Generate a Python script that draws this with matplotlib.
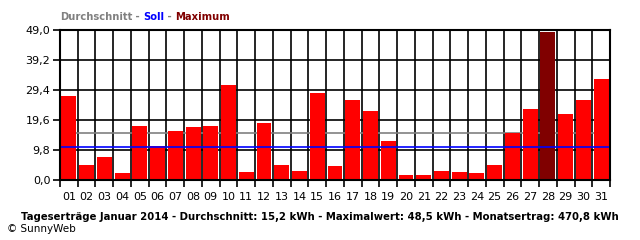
import numpy as np
import matplotlib
matplotlib.use("Agg")
import matplotlib.pyplot as plt

# Tageserträge Januar 2014 (kWh)
tage = [f"{d:02d}" for d in range(1, 32)]
ertrag = [27.4, 5.0, 7.6, 2.4, 17.7, 11.0, 16.0, 17.4, 17.7, 31.0,
          2.7, 18.7, 5.0, 3.0, 28.4, 4.7, 26.1, 22.5, 12.8, 1.7,
          1.7, 3.0, 2.7, 2.4, 5.0, 15.5, 23.2, 48.5, 21.6, 26.1, 33.0]
durchschnitt = 15.2
soll = 10.8
y_ticks = [0.0, 9.8, 19.6, 29.4, 39.2, 49.0]
y_labels = ["0,0", "9,8", "19,6", "29,4", "39,2", "49,0"]

plt.rcParams['font.family'] = ['DejaVu Sans']

fig = plt.figure(figsize=(6.4, 2.4), dpi=100)
ax = fig.add_axes([60/640, 60/240, 550/640, 150/240])

x = np.arange(1, 32)
imax = int(np.argmax(ertrag))
farben = ["#FF0000"] * len(ertrag)
farben[imax] = "#800000"
ax.bar(x, ertrag, width=0.84, color=farben, zorder=3)

# Gitter
for xb in np.arange(0.5, 32, 1.0):
    ax.axvline(xb, color="black", lw=1.2, zorder=1)
for yv in y_ticks[1:-1]:
    ax.axhline(yv, color="black", lw=1.2, zorder=1)

# Durchschnitt hinter den Balken, Soll davor
ax.axhline(durchschnitt, color="#808080", lw=1.2, zorder=2)
ax.axhline(soll, color="#0000FF", lw=1.2, zorder=4)

ax.set_xlim(0.5, 31.5)
ax.set_ylim(0, 49.0)
ax.set_yticks(y_ticks)
ax.set_yticklabels(y_labels, fontsize=8)
ax.set_xticks(np.arange(0.5, 32, 1.0))
ax.set_xticklabels([])
ax.set_xticks(x, minor=True)
ax.set_xticklabels(tage, minor=True, fontsize=8)
ax.tick_params(axis="x", which="minor", length=0, pad=9)
ax.tick_params(axis="x", which="major", length=5, width=1.2, direction="out")
ax.tick_params(axis="y", length=5, width=1.2, pad=2)
for s in ax.spines.values():
    s.set_linewidth(1.5)
    s.set_color("black")
    s.set_zorder(5)

# Kopfzeile mit farbigen Teilen
teile = [("Durchschnitt", "#808080"), (" - ", "#808080"), ("Soll", "#0000FF"),
         (" - ", "#808080"), ("Maximum", "#800000")]
fig.canvas.draw()
r = fig.canvas.get_renderer()
xpos = 60
for txt, c in teile:
    t = fig.text(xpos/640, 1 - 17/240, txt, color=c, fontsize=7.2, fontweight="bold",
                 va="center", ha="left")
    xpos += t.get_window_extent(r).width

fig.text(320/640, 1 - 217/240,
         "Tageserträge Januar 2014 - Durchschnitt: 15,2 kWh - Maximalwert: 48,5 kWh - Monatsertrag: 470,8 kWh",
         fontsize=7.3, fontweight="bold", ha="center", va="center")
fig.text(7/640, 1 - 229/240, "© SunnyWeb", fontsize=7.5, ha="left", va="center")

fig.savefig("out.png", dpi=100, facecolor="white")
